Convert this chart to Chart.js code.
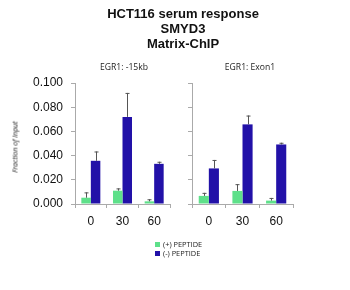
<!DOCTYPE html>
<html>
<head>
<meta charset="utf-8">
<script src="https://cdn.jsdelivr.net/npm/chart.js@4"></script>
<style>
  body { margin: 0; background: #fff; }
  #wrap { position: relative; width: 350px; height: 290px; overflow: hidden; font-family: "Liberation Sans", Arial, sans-serif; }
  canvas { position: absolute; left: 0; top: 0; }
  .title { position: absolute; left: 83px; width: 200px; text-align: center; font-weight: bold; font-size: 13px; color: #111; line-height: 15px; top: 6px; }
  .panel { position: absolute; top: 61px; font-family: "Open Sans", sans-serif; font-size: 8.6px; color: #222; width: 90px; text-align: center; }
  .ytitle { position: absolute; left: 15px; top: 147px; font-family: "Open Sans", sans-serif; font-size: 7px; font-style: italic; color: #111; transform: translate(-50%, -50%) rotate(-90deg); white-space: nowrap; }
  .leg { position: absolute; left: 155px; font-family: "Open Sans", sans-serif; font-size: 7.4px; color: #222; line-height: 9px; }
  .leg span { display: inline-block; width: 5px; height: 5px; margin-right: 3px; }
</style>
</head>
<body>
<div id="wrap">
  <canvas id="c1" width="350" height="290"></canvas>
  <canvas id="c2" width="350" height="290"></canvas>
  <div class="title">HCT116 serum response<br>SMYD3<br>Matrix-ChIP</div>
  <div class="panel" style="left:79px">EGR1: -15kb</div>
  <div class="panel" style="left:205px">EGR1: Exon1</div>
  <div class="ytitle">Fraction of Input</div>
  <div class="leg" style="top:240px"><span style="background:#5ee08a"></span>(+) PEPTIDE</div>
  <div class="leg" style="top:249px"><span style="background:#2211a8"></span>(-) PEPTIDE</div>
</div>
<script>
const times = ["0", "30", "60"];
const yTicks = [0, 0.02, 0.04, 0.06, 0.08, 0.1];

// EGR1: -15kb
const plus15kb = [0.0052, 0.0110, 0.0022];
const plus15kbErr = [0.0044, 0.0019, 0.0017];
const minus15kb = [0.0357, 0.0720, 0.0332];
const minus15kbErr = [0.0077, 0.0198, 0.0017];

// EGR1: Exon1
const plusExon1 = [0.0067, 0.0108, 0.0028];
const plusExon1Err = [0.0025, 0.0056, 0.0022];
const minusExon1 = [0.0294, 0.0658, 0.0492];
const minusExon1Err = [0.0070, 0.0073, 0.0014];

const green = "#5ee08a";
const blue = "#2211a8";

// upward error bars with small caps
const errorBars = {
    id: "errorBars",
    afterDatasetsDraw(chart) {
        const ctx = chart.ctx;
        const y = chart.scales.y;
        ctx.save();
        ctx.strokeStyle = "#555";
        ctx.lineWidth = 1;
        chart.data.datasets.forEach((ds, di) => {
            const meta = chart.getDatasetMeta(di);
            meta.data.forEach((bar, i) => {
                const top = y.getPixelForValue(ds.data[i] + ds.errors[i]);
                const x = Math.round(bar.x) + 0.5;
                ctx.beginPath();
                ctx.moveTo(x, bar.y);
                ctx.lineTo(x, top);
                ctx.moveTo(x - 2, top + 0.5);
                ctx.lineTo(x + 2, top + 0.5);
                ctx.stroke();
            });
        });
        ctx.restore();
    }
};

function makeChart(id, plus, plusErr, minus, minusErr, pad, yWidth, showLabels) {
    return new Chart(document.getElementById(id), {
        type: "bar",
        data: {
            labels: times,
            datasets: [
                { label: "(+) PEPTIDE", data: plus, errors: plusErr, backgroundColor: green },
                { label: "(-) PEPTIDE", data: minus, errors: minusErr, backgroundColor: blue }
            ]
        },
        options: {
            responsive: false,
            animation: false,
            layout: { padding: pad },
            categoryPercentage: 0.6,
            barPercentage: 1,
            plugins: { legend: { display: false }, tooltip: { enabled: false } },
            scales: {
                x: {
                    grid: { display: true, drawOnChartArea: false, offset: true, tickLength: 4, color: "#aaa" },
                    border: { color: "#aaa" },
                    ticks: { color: "#111", font: { size: 12, family: "Liberation Sans" }, padding: 6 },
                    afterFit: s => { s.height = 30; }
                },
                y: {
                    min: 0,
                    max: 0.1,
                    afterBuildTicks: s => { s.ticks = yTicks.map(v => ({ value: v })); },
                    grid: { display: true, drawOnChartArea: false, tickLength: 4, color: "#aaa" },
                    border: { color: "#aaa" },
                    ticks: {
                        display: showLabels,
                        color: "#111",
                        font: { size: 12, family: "Liberation Sans" },
                        padding: 8,
                        callback: v => v.toFixed(3)
                    },
                    afterFit: s => { s.width = yWidth; }
                }
            }
        },
        plugins: [errorBars]
    });
}

makeChart("c1", plus15kb, plus15kbErr, minus15kb, minus15kbErr,
    { left: 0, right: 180, top: 83, bottom: 56 }, 75, true);
makeChart("c2", plusExon1, plusExon1Err, minusExon1, minusExon1Err,
    { left: 150, right: 57, top: 83, bottom: 56 }, 42, false);
</script>
</body>
</html>
